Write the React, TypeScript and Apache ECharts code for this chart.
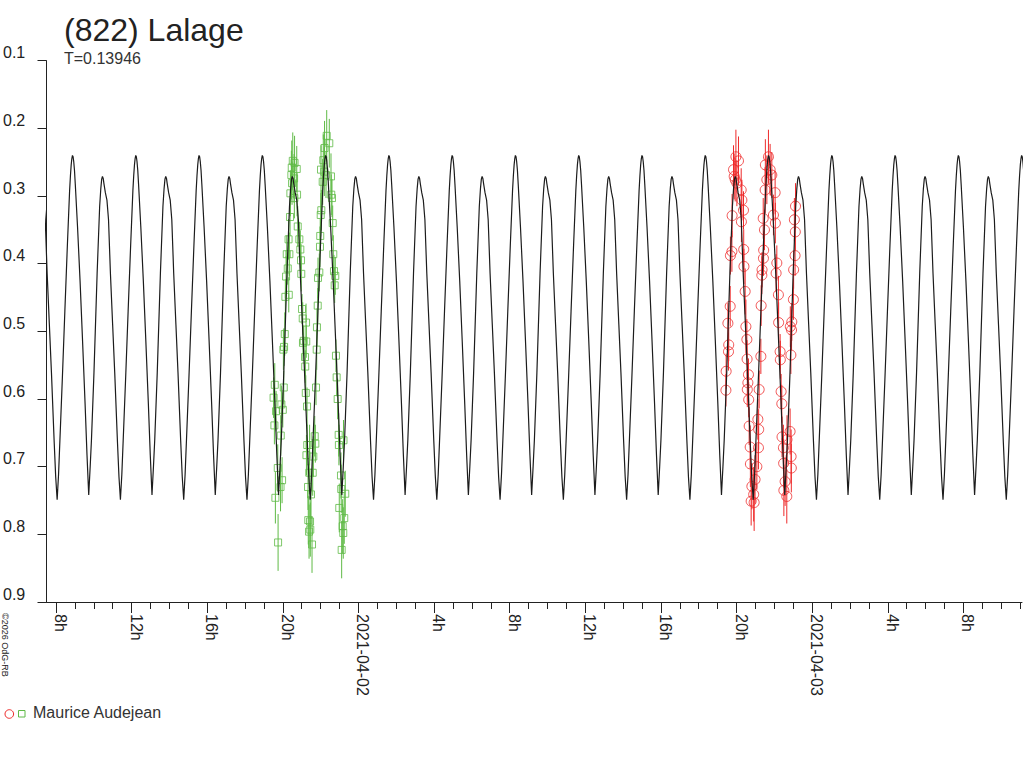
import React, { useEffect, useRef } from "react";
import * as echarts from "echarts";

// ---- texts ----
const TITLE = "(822) Lalage";
const SUBTITLE = "T=0.13946";
const OBSERVER = "Maurice Audejean";
const COPYRIGHT = "\u00a92026 OdG-RB";

// ---- axes (time in hours after 2021-04-01 00:00 UT) ----
const X_MIN_H = 7.5;
const X_MAX_H = 59.1;
const X_LABEL_HOURS = [8, 12, 16, 20, 24, 28, 32, 36, 40, 44, 48, 52, 56];
const X_LABELS = ["8h", "12h", "16h", "20h", "2021-04-02", "4h", "8h", "12h", "16h", "20h", "2021-04-03", "4h", "8h"];
const X_HOUR_TICKS = [
  8, 9, 10, 11, 12, 13, 14, 15, 16, 17, 18, 19, 20, 21, 22, 23, 24, 25, 26, 27, 28, 29, 30, 31, 32, 33,
  34, 35, 36, 37, 38, 39, 40, 41, 42, 43, 44, 45, 46, 47, 48, 49, 50, 51, 52, 53, 54, 55, 56, 57, 58, 59,
];
const Y_MIN = 0.1;
const Y_MAX = 0.9;
const Y_STEP = 0.1;

// ---- model lightcurve: one period ----
const PERIOD_DAYS = 0.13946;
const EPOCH_H = 8.873; // time of the brightest maximum (hours after 2021-04-01 00:00 UT)
const MODEL_PHASE = [
  0.0, 0.01, 0.02, 0.032, 0.045, 0.08, 0.12, 0.16, 0.2, 0.23, 0.257, 0.28, 0.3, 0.34, 0.39, 0.43, 0.448,
  0.462, 0.474, 0.486, 0.498, 0.52, 0.545, 0.57, 0.6, 0.635, 0.668, 0.71, 0.735, 0.758, 0.78, 0.8, 0.84, 0.88,
  0.92, 0.955, 0.968, 0.98, 0.99,
];
const MODEL_MAG = [
  0.24, 0.242, 0.249, 0.262, 0.283, 0.345, 0.425, 0.515, 0.608, 0.683, 0.742, 0.7, 0.661, 0.561, 0.414, 0.315,
  0.289, 0.275, 0.271, 0.274, 0.282, 0.295, 0.306, 0.335, 0.414, 0.49, 0.561, 0.661, 0.715, 0.749, 0.712, 0.665,
  0.57, 0.47, 0.372, 0.292, 0.27, 0.254, 0.245,
];

// ---- observations: [minutes after 19:00 UT, magnitude, error] ----
const GREEN_START_H = 19; // 2021-04-01 19:00 UT
const GREEN_OBS = [
  [30.7, 0.598, 0.03], [33.3, 0.639, 0.028], [34.5, 0.579, 0.032], [36.4, 0.746, 0.038], [38.6, 0.618, 0.03],
  [44.0, 0.702, 0.035], [45.0, 0.812, 0.042], [52.8, 0.73, 0.036], [53.5, 0.654, 0.03], [55.4, 0.608, 0.028],
  [57.7, 0.72, 0.034], [59.9, 0.616, 0.026], [61.8, 0.527, 0.03], [63.0, 0.583, 0.025], [64.0, 0.523, 0.028],
  [66.2, 0.504, 0.032], [68.1, 0.449, 0.026], [70.3, 0.419, 0.03], [72.5, 0.386, 0.028], [75.7, 0.407, 0.024],
  [78.2, 0.364, 0.03], [78.9, 0.446, 0.026], [80.8, 0.386, 0.032], [83.0, 0.331, 0.028], [84.0, 0.296, 0.034],
  [87.1, 0.269, 0.036], [88.4, 0.258, 0.04], [89.3, 0.281, 0.032], [91.6, 0.248, 0.042], [95.8, 0.274, 0.036],
  [96.6, 0.303, 0.03], [97.3, 0.251, 0.04], [104.2, 0.26, 0.034], [105.2, 0.298, 0.032], [107.4, 0.345, 0.03],
  [112.5, 0.364, 0.026], [115.6, 0.379, 0.028], [117.8, 0.395, 0.024], [118.6, 0.415, 0.026], [121.0, 0.467, 0.022],
  [123.2, 0.481, 0.024], [124.0, 0.517, 0.026], [126.4, 0.514, 0.022], [130.5, 0.538, 0.028], [131.2, 0.552, 0.024],
  [132.9, 0.591, 0.026], [133.7, 0.487, 0.028], [134.4, 0.515, 0.024], [135.0, 0.683, 0.03], [136.9, 0.611, 0.028],
  [137.6, 0.668, 0.03], [140.0, 0.73, 0.034], [140.8, 0.779, 0.036], [143.3, 0.796, 0.04], [144.1, 0.709, 0.032],
  [145.0, 0.668, 0.03], [146.4, 0.781, 0.038], [147.2, 0.793, 0.04], [149.5, 0.741, 0.036], [152.7, 0.815, 0.042],
  [154.9, 0.709, 0.034], [156.8, 0.685, 0.03], [161.3, 0.655, 0.03], [163.2, 0.666, 0.028], [165.4, 0.583, 0.026],
  [167.6, 0.527, 0.03], [168.4, 0.494, 0.028], [170.8, 0.462, 0.026], [171.7, 0.421, 0.03], [175.8, 0.413, 0.028],
  [178.0, 0.375, 0.03], [178.8, 0.359, 0.026], [180.3, 0.328, 0.032], [181.2, 0.261, 0.036], [182.2, 0.321, 0.03],
  [186.6, 0.279, 0.034], [188.5, 0.247, 0.038], [191.7, 0.264, 0.036], [192.5, 0.229, 0.04], [197.1, 0.269, 0.034],
  [199.3, 0.211, 0.038], [207.5, 0.222, 0.036], [212.9, 0.271, 0.034], [213.7, 0.298, 0.03], [216.1, 0.303, 0.028],
  [218.3, 0.34, 0.026], [220.2, 0.386, 0.028], [222.4, 0.411, 0.024], [224.6, 0.432, 0.026], [226.5, 0.418, 0.028],
  [228.7, 0.536, 0.024], [230.9, 0.568, 0.028], [234.1, 0.6, 0.03], [237.3, 0.653, 0.032], [238.0, 0.668, 0.03],
  [239.2, 0.761, 0.036], [244.6, 0.713, 0.034], [245.4, 0.733, 0.036], [246.8, 0.823, 0.042], [250.0, 0.788, 0.04],
  [251.9, 0.798, 0.038], [252.6, 0.661, 0.03], [255.0, 0.776, 0.038], [258.2, 0.74, 0.034],
];

const RED_START_H = 43; // 2021-04-02 19:00 UT
const RED_OBS = [
  [26.3, 0.587, 0.024], [27.0, 0.559, 0.026], [32.6, 0.488, 0.03], [34.5, 0.53, 0.028], [35.2, 0.52, 0.024],
  [39.9, 0.463, 0.03], [40.6, 0.388, 0.028], [45.3, 0.382, 0.03], [46.0, 0.329, 0.032], [50.4, 0.261, 0.036],
  [52.6, 0.271, 0.034], [55.8, 0.276, 0.032], [58.0, 0.242, 0.04], [61.1, 0.281, 0.034], [66.2, 0.248, 0.036],
  [74.8, 0.291, 0.032], [75.5, 0.338, 0.03], [77.0, 0.306, 0.03], [82.1, 0.321, 0.028], [82.8, 0.379, 0.03],
  [83.5, 0.404, 0.026], [87.4, 0.441, 0.034], [89.7, 0.493, 0.04], [92.8, 0.512, 0.03], [93.5, 0.541, 0.028],
  [94.2, 0.586, 0.026], [96.0, 0.576, 0.028], [97.9, 0.564, 0.024], [98.6, 0.601, 0.026], [100.1, 0.64, 0.028],
  [103.3, 0.671, 0.032], [104.0, 0.696, 0.034], [106.4, 0.751, 0.036], [108.7, 0.729, 0.034], [114.4, 0.741, 0.04],
  [115.9, 0.753, 0.042], [118.8, 0.719, 0.036], [124.5, 0.7, 0.034], [127.7, 0.63, 0.03], [129.6, 0.672, 0.032],
  [130.3, 0.645, 0.03], [131.8, 0.586, 0.028], [137.2, 0.537, 0.026], [138.1, 0.462, 0.03], [140.3, 0.417, 0.028],
  [141.0, 0.409, 0.026], [144.7, 0.333, 0.03], [145.4, 0.392, 0.026], [146.1, 0.38, 0.028], [148.6, 0.35, 0.03],
  [150.8, 0.291, 0.034], [151.5, 0.254, 0.038], [156.2, 0.276, 0.036], [161.3, 0.242, 0.04], [166.6, 0.261, 0.038],
  [172.0, 0.269, 0.034], [177.1, 0.328, 0.03], [182.5, 0.295, 0.032], [183.2, 0.34, 0.03], [185.6, 0.414, 0.028],
  [187.9, 0.399, 0.026], [192.9, 0.446, 0.028], [193.6, 0.487, 0.03], [198.3, 0.53, 0.026], [199.0, 0.542, 0.028],
  [201.5, 0.589, 0.026], [203.7, 0.607, 0.028], [204.4, 0.656, 0.03], [208.8, 0.672, 0.034], [209.5, 0.695, 0.036],
  [210.2, 0.735, 0.038], [214.2, 0.722, 0.036], [219.5, 0.744, 0.04], [220.2, 0.66, 0.036], [230.0, 0.648, 0.034],
  [230.7, 0.493, 0.03], [232.5, 0.535, 0.028], [233.2, 0.685, 0.04], [233.9, 0.702, 0.036], [234.6, 0.498, 0.03],
  [235.4, 0.486, 0.028], [240.5, 0.453, 0.03], [241.2, 0.409, 0.028], [243.6, 0.335, 0.032], [245.8, 0.388, 0.03],
  [246.5, 0.353, 0.028], [247.2, 0.315, 0.034],
];

// ---- styles ----
const FONT = "'Liberation Sans', Arial, sans-serif";
const INK = "#222222";
const RED = "#ee2b2b";
const GREEN = "#5fba46";
const MODEL_COLOR = "#1c1c1c";

function buildModel(): number[][] {
  const periodH = PERIOD_DAYS * 24;
  const out: number[][] = [];
  const kStart = Math.floor((X_MIN_H - EPOCH_H) / periodH) - 1;
  const kEnd = Math.ceil((X_MAX_H - EPOCH_H) / periodH) + 1;
  for (let k = kStart; k <= kEnd; k++) {
    for (let i = 0; i < MODEL_PHASE.length; i++) {
      out.push([EPOCH_H + (k + MODEL_PHASE[i]) * periodH, MODEL_MAG[i]]);
    }
  }
  return out;
}

function toPoints(obs: number[][], startH: number): number[][] {
  return obs.map(([m, mag, err]) => [startH + m / 60, mag, err]);
}

function errorBars(data: number[][], color: string) {
  return {
    type: "custom",
    xAxisIndex: 0,
    yAxisIndex: 0,
    data,
    encode: { x: 0, y: 1 },
    silent: true,
    z: 2,
    renderItem: (_params: any, api: any) => {
      const t = api.value(0);
      const m = api.value(1);
      const e = api.value(2);
      const a = api.coord([t, m - e]);
      const b = api.coord([t, m + e]);
      return {
        type: "line",
        shape: { x1: a[0], y1: a[1], x2: b[0], y2: b[1] },
        style: { stroke: color, lineWidth: 1 },
      };
    },
  };
}

export default function App() {
  const ref = useRef<HTMLDivElement>(null);

  useEffect(() => {
    if (!ref.current) return;
    const chart = echarts.init(ref.current, undefined, { renderer: "svg" });
    const green = toPoints(GREEN_OBS, GREEN_START_H);
    const red = toPoints(RED_OBS, RED_START_H);
    const model = buildModel();

    const option: any = {
      animation: false,
      backgroundColor: "#ffffff",
      textStyle: { fontFamily: FONT },
      title: {
        text: TITLE,
        subtext: SUBTITLE,
        left: 59,
        top: 9,
        itemGap: 4,
        textStyle: { fontSize: 32, fontWeight: "normal", color: INK, fontFamily: FONT },
        subtextStyle: { fontSize: 16, color: "#333333", fontFamily: FONT },
      },
      grid: { left: 45, right: 2, top: 60.7, bottom: 166, containLabel: false },
      xAxis: [
        {
          type: "value",
          position: "bottom",
          min: X_MIN_H,
          max: X_MAX_H,
          axisLine: { show: true, onZero: false, lineStyle: { color: INK, width: 1 } },
          axisTick: { show: true, length: 11, customValues: X_LABEL_HOURS, lineStyle: { color: INK, width: 1 } },
          axisLabel: {
            show: true,
            customValues: X_LABEL_HOURS,
            rotate: -90,
            margin: 12,
            fontSize: 16,
            color: INK,
            fontFamily: FONT,
            verticalAlign: "bottom",
            lineHeight: 9,
            formatter: (v: number) => {
              const i = X_LABEL_HOURS.indexOf(Math.round(v));
              return i >= 0 ? X_LABELS[i] : "";
            },
          },
          splitLine: { show: false },
        },
        {
          type: "value",
          position: "bottom",
          min: X_MIN_H,
          max: X_MAX_H,
          axisLine: { show: false, onZero: false },
          axisTick: { show: true, length: 7, customValues: X_HOUR_TICKS, lineStyle: { color: INK, width: 1 } },
          axisLabel: { show: false },
          splitLine: { show: false },
        },
      ],
      yAxis: {
        type: "value",
        inverse: true,
        min: Y_MIN,
        max: Y_MAX,
        interval: Y_STEP,
        axisLine: { show: true, lineStyle: { color: INK, width: 1 } },
        axisTick: { show: true, length: 9, lineStyle: { color: INK, width: 1 } },
        axisLabel: {
          margin: 43.5,
          align: "left",
          verticalAlign: "bottom",
          fontSize: 16,
          color: INK,
          fontFamily: FONT,
          formatter: (v: number) => v.toFixed(1),
        },
        splitLine: { show: false },
      },
      series: [
        errorBars(green, GREEN),
        {
          type: "scatter",
          xAxisIndex: 0,
          data: green.map((p) => [p[0], p[1]]),
          symbol: "rect",
          symbolSize: 7,
          silent: true,
          z: 3,
          itemStyle: { color: "rgba(0,0,0,0)", borderColor: GREEN, borderWidth: 1 },
        },
        errorBars(red, RED),
        {
          type: "scatter",
          xAxisIndex: 0,
          data: red.map((p) => [p[0], p[1]]),
          symbol: "circle",
          symbolSize: 10,
          silent: true,
          z: 3,
          itemStyle: { color: "rgba(0,0,0,0)", borderColor: RED, borderWidth: 1 },
        },
        {
          type: "line",
          xAxisIndex: 0,
          data: model,
          showSymbol: false,
          symbol: "none",
          clip: true,
          silent: true,
          z: 5,
          lineStyle: { color: MODEL_COLOR, width: 1.2 },
        },
      ],
      graphic: [
        {
          type: "text",
          x: 0,
          y: 613,
          rotation: -Math.PI / 2,
          style: { text: COPYRIGHT, fontSize: 9, fontFamily: FONT, fill: INK, verticalAlign: "bottom", align: "left" },
        },
        {
          type: "circle",
          shape: { cx: 9.3, cy: 714, r: 4.3 },
          style: { fill: "none", stroke: RED, lineWidth: 1 },
        },
        {
          type: "rect",
          shape: { x: 18.5, y: 710.5, width: 6.5, height: 6.5 },
          style: { fill: "none", stroke: GREEN, lineWidth: 1 },
        },
        {
          type: "text",
          x: 33,
          y: 712,
          style: { text: OBSERVER, fontSize: 16, fontFamily: FONT, fill: "#333333", verticalAlign: "middle", align: "left" },
        },
      ],
    };

    chart.setOption(option);
    return () => chart.dispose();
  }, []);

  return (
    <div
      ref={ref}
      style={{ position: "absolute", left: 0, top: 0, width: 1024, height: 768, background: "#fff" }}
    />
  );
}
